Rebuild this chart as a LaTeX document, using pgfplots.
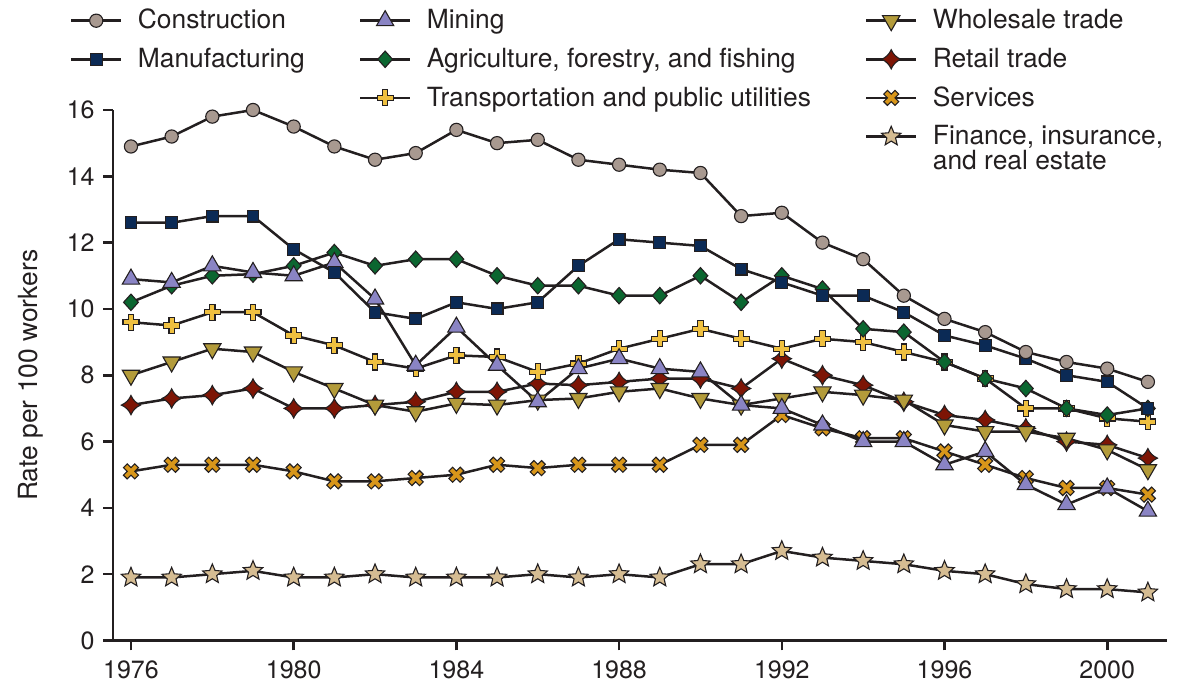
\documentclass[border=0pt]{standalone}
\usepackage{fontspec}
\setmainfont{TeX Gyre Heros}
\usepackage{pgfplots}
\pgfplotsset{compat=1.18}
\usepackage{pgfplotstable}
\usetikzlibrary{calc}

\definecolor{dark}{HTML}{231F20}
\definecolor{ccon}{HTML}{A89990}
\definecolor{cman}{HTML}{0B2A55}
\definecolor{cmin}{HTML}{8A84C4}
\definecolor{cagr}{HTML}{0B6630}
\definecolor{ctra}{HTML}{EFC040}
\definecolor{cwho}{HTML}{B39B3A}
\definecolor{cret}{HTML}{7D1505}
\definecolor{cser}{HTML}{D8961A}
\definecolor{cfin}{HTML}{D5BC92}

\pgfdeclareplotmark{fatplus}{%
  \pgfpathmoveto{\pgfqpoint{-0.33\pgfplotmarksize}{\pgfplotmarksize}}%
  \pgfpathlineto{\pgfqpoint{0.33\pgfplotmarksize}{\pgfplotmarksize}}%
  \pgfpathlineto{\pgfqpoint{0.33\pgfplotmarksize}{0.33\pgfplotmarksize}}%
  \pgfpathlineto{\pgfqpoint{\pgfplotmarksize}{0.33\pgfplotmarksize}}%
  \pgfpathlineto{\pgfqpoint{\pgfplotmarksize}{-0.33\pgfplotmarksize}}%
  \pgfpathlineto{\pgfqpoint{0.33\pgfplotmarksize}{-0.33\pgfplotmarksize}}%
  \pgfpathlineto{\pgfqpoint{0.33\pgfplotmarksize}{-\pgfplotmarksize}}%
  \pgfpathlineto{\pgfqpoint{-0.33\pgfplotmarksize}{-\pgfplotmarksize}}%
  \pgfpathlineto{\pgfqpoint{-0.33\pgfplotmarksize}{-0.33\pgfplotmarksize}}%
  \pgfpathlineto{\pgfqpoint{-\pgfplotmarksize}{-0.33\pgfplotmarksize}}%
  \pgfpathlineto{\pgfqpoint{-\pgfplotmarksize}{0.33\pgfplotmarksize}}%
  \pgfpathlineto{\pgfqpoint{-0.33\pgfplotmarksize}{0.33\pgfplotmarksize}}%
  \pgfpathclose\pgfusepathqfillstroke}

\pgfdeclareplotmark{mydiamond}{%
  \pgfpathmoveto{\pgfqpoint{0pt}{\pgfplotmarksize}}%
  \pgfpathlineto{\pgfqpoint{0.9\pgfplotmarksize}{0pt}}%
  \pgfpathlineto{\pgfqpoint{0pt}{-\pgfplotmarksize}}%
  \pgfpathlineto{\pgfqpoint{-0.9\pgfplotmarksize}{0pt}}%
  \pgfpathclose\pgfusepathqfillstroke}

\pgfdeclareplotmark{cdiamond}{%
  \pgfpathmoveto{\pgfqpoint{0pt}{\pgfplotmarksize}}%
  \pgfpathquadraticcurveto{\pgfqpoint{0.3\pgfplotmarksize}{0.3\pgfplotmarksize}}{\pgfqpoint{\pgfplotmarksize}{0pt}}%
  \pgfpathquadraticcurveto{\pgfqpoint{0.3\pgfplotmarksize}{-0.3\pgfplotmarksize}}{\pgfqpoint{0pt}{-\pgfplotmarksize}}%
  \pgfpathquadraticcurveto{\pgfqpoint{-0.3\pgfplotmarksize}{-0.3\pgfplotmarksize}}{\pgfqpoint{-\pgfplotmarksize}{0pt}}%
  \pgfpathquadraticcurveto{\pgfqpoint{-0.3\pgfplotmarksize}{0.3\pgfplotmarksize}}{\pgfqpoint{0pt}{\pgfplotmarksize}}%
  \pgfpathclose\pgfusepathqfillstroke}

\pgfdeclareplotmark{fstar}{%
  \pgfpathmoveto{\pgfpointpolar{90}{\pgfplotmarksize}}%
  \pgfpathlineto{\pgfpointpolar{126}{0.45\pgfplotmarksize}}%
  \pgfpathlineto{\pgfpointpolar{162}{\pgfplotmarksize}}%
  \pgfpathlineto{\pgfpointpolar{198}{0.45\pgfplotmarksize}}%
  \pgfpathlineto{\pgfpointpolar{234}{\pgfplotmarksize}}%
  \pgfpathlineto{\pgfpointpolar{270}{0.45\pgfplotmarksize}}%
  \pgfpathlineto{\pgfpointpolar{306}{\pgfplotmarksize}}%
  \pgfpathlineto{\pgfpointpolar{342}{0.45\pgfplotmarksize}}%
  \pgfpathlineto{\pgfpointpolar{18}{\pgfplotmarksize}}%
  \pgfpathlineto{\pgfpointpolar{54}{0.45\pgfplotmarksize}}%
  \pgfpathclose\pgfusepathqfillstroke}

\tikzset{
  serline/.style={draw=dark, line width=1.25pt, solid},
  scon/.style={serline, mark=*, mark size=3.3pt, mark options={fill=ccon, draw=dark, line width=0.55pt, solid}},
  sman/.style={serline, mark=square*, mark size=2.95pt, mark options={fill=cman, draw=dark, line width=0.55pt, solid}},
  smin/.style={serline, mark=triangle*, mark size=5pt, mark options={fill=cmin, draw=dark, line width=0.55pt, solid}},
  sagr/.style={serline, mark=mydiamond, mark size=4.1pt, mark options={fill=cagr, draw=dark, line width=0.55pt, solid}},
  stra/.style={serline, mark=fatplus, mark size=4pt, mark options={fill=ctra, draw=dark, line width=0.55pt, solid}},
  swho/.style={serline, mark=triangle*, mark size=5pt, mark options={rotate=180, fill=cwho, draw=dark, line width=0.55pt, solid}},
  sret/.style={serline, mark=cdiamond, mark size=4.8pt, mark options={fill=cret, draw=dark, line width=0.55pt, solid}},
  sser/.style={serline, mark=fatplus, mark size=4pt, mark options={rotate=45, fill=cser, draw=dark, line width=0.55pt, solid}},
  sfin/.style={serline, mark=fstar, mark size=5.1pt, mark options={fill=cfin, draw=dark, line width=0.55pt, solid}},
}

\pgfplotstableread{
year con man min agr tra who ret ser fin
1976 14.9 12.6 10.9 10.2 9.6 8.0 7.1 5.1 1.9
1977 15.2 12.6 10.8 10.7 9.5 8.4 7.3 5.3 1.9
1978 15.8 12.8 11.3 11.0 9.9 8.8 7.4 5.3 2.0
1979 16.0 12.8 11.1 11.05 9.9 8.7 7.6 5.3 2.1
1980 15.5 11.8 11.0 11.3 9.2 8.1 7.0 5.1 1.9
1981 14.9 11.1 11.4 11.7 8.9 7.6 7.0 4.8 1.9
1982 14.5 9.9 10.3 11.3 8.4 7.1 7.1 4.8 2.0
1983 14.7 9.7 8.3 11.5 8.2 6.9 7.2 4.9 1.9
1984 15.4 10.2 9.45 11.5 8.6 7.15 7.5 5.0 1.9
1985 15.0 10.0 8.3 11.0 8.55 7.1 7.5 5.3 1.9
1986 15.1 10.2 7.2 10.7 8.1 7.25 7.75 5.2 2.0
1987 14.5 11.3 8.2 10.7 8.35 7.3 7.7 5.3 1.9
1988 14.35 12.1 8.5 10.4 8.8 7.5 7.8 5.3 2.0
1989 14.2 12.0 8.2 10.4 9.1 7.6 7.9 5.3 1.9
1990 14.1 11.9 8.1 11.0 9.4 7.3 7.9 5.9 2.3
1991 12.8 11.2 7.1 10.2 9.1 7.1 7.6 5.9 2.3
1992 12.9 10.8 7.0 11.0 8.8 7.3 8.5 6.8 2.7
1993 12.0 10.4 6.5 10.6 9.1 7.5 8.0 6.4 2.5
1994 11.5 10.4 6.0 9.4 9.0 7.4 7.7 6.1 2.4
1995 10.4 9.9 6.0 9.3 8.7 7.25 7.2 6.1 2.3
1996 9.7 9.2 5.3 8.4 8.4 6.5 6.8 5.7 2.1
1997 9.3 8.9 5.7 7.9 7.9 6.3 6.65 5.3 2.0
1998 8.7 8.5 4.7 7.6 7.0 6.3 6.4 4.9 1.7
1999 8.4 8.0 4.1 7.0 7.0 6.1 6.0 4.6 1.55
2000 8.2 7.8 4.6 6.8 6.7 5.75 5.9 4.6 1.55
2001 7.8 7.0 3.9 7.0 6.6 5.15 5.5 4.4 1.45
}\datatab

\begin{document}
\begin{tikzpicture}
\begin{axis}[
  name=ax,
  scale only axis,
  width=526.8pt, height=265.25pt,
  xmin=1975.558, xmax=2001.46, ymin=0, ymax=16,
  clip=false,
  axis x line=bottom, axis y line=left,
  axis line style={-, draw=dark, line width=1.3pt},
  tick align=outside,
  major tick length=5pt,
  tick style={draw=dark, line width=1.3pt},
  minor tick num=0,
  xtick={1976,1980,...,2000},
  ytick={0,2,...,16},
  /pgf/number format/1000 sep={},
  /pgf/number format/assume math mode=true,
  ticklabel style={font=\fontsize{12.5}{15}\selectfont, text=dark, inner sep=0pt},
  yticklabel style={xshift=-4pt},
  xticklabel style={yshift=-4.75pt},
  ylabel={Rate per 100 workers},
  ylabel style={at={([xshift=-47.5pt]axis description cs:0,0.5)}, anchor=north, inner sep=0pt, font=\fontsize{13.2}{15.8}\selectfont, text=dark},
  legend columns=3,
  legend cell align=left,
  legend image code/.code={\draw[mark repeat=2,mark phase=2,#1] plot coordinates {(0pt,0pt) (12.5pt,0pt) (25pt,0pt)};},
  legend style={draw=none, fill=none, inner sep=0pt, outer sep=0pt,
    at={([xshift=-21.5pt,yshift=50pt]axis description cs:0,1)}, anchor=north west,
    font=\fontsize{13.2}{15.8}\selectfont, text=dark,
    nodes={inner sep=0pt, text height=9.5pt, text depth=1.2pt},
    row sep=8.6pt,
    /tikz/every odd column/.append style={column sep=7.7pt},
    /tikz/every even column/.append style={column sep=27pt}},
]
\addplot[sfin, forget plot] table[x=year, y=fin]{\datatab};
\addplot[sser, forget plot] table[x=year, y=ser]{\datatab};
\addplot[sret, forget plot] table[x=year, y=ret]{\datatab};
\addplot[swho, forget plot] table[x=year, y=who]{\datatab};
\addplot[stra, forget plot] table[x=year, y=tra]{\datatab};
\addplot[sagr, forget plot] table[x=year, y=agr]{\datatab};
\addplot[smin, forget plot] table[x=year, y=min]{\datatab};
\addplot[sman, forget plot] table[x=year, y=man]{\datatab};
\addplot[scon, forget plot] table[x=year, y=con]{\datatab};

\addlegendimage{scon}\addlegendentry{Construction}
\addlegendimage{smin}\addlegendentry{Mining}
\addlegendimage{swho}\addlegendentry{Wholesale trade}
\addlegendimage{sman}\addlegendentry{Manufacturing}
\addlegendimage{sagr}\addlegendentry{Agriculture, forestry, and fishing}
\addlegendimage{sret}\addlegendentry{Retail trade}
\addlegendimage{empty legend}\addlegendentry{}
\addlegendimage{stra}\addlegendentry{Transportation and public utilities}
\addlegendimage{sser}\addlegendentry{Services}
\addlegendimage{empty legend}\addlegendentry{}
\addlegendimage{empty legend}\addlegendentry{}
\addlegendimage{sfin}\addlegendentry{\vtop{\baselineskip=12.5pt\lineskiplimit=-20pt\hbox{Finance, insurance,}\hbox{and real estate}}}
\end{axis}
\pgfresetboundingbox
\path ($(ax.south west)+(-56.5pt,-21.75pt)$) rectangle ($(ax.south west)+(536pt,320.25pt)$);
\end{tikzpicture}
\end{document}
